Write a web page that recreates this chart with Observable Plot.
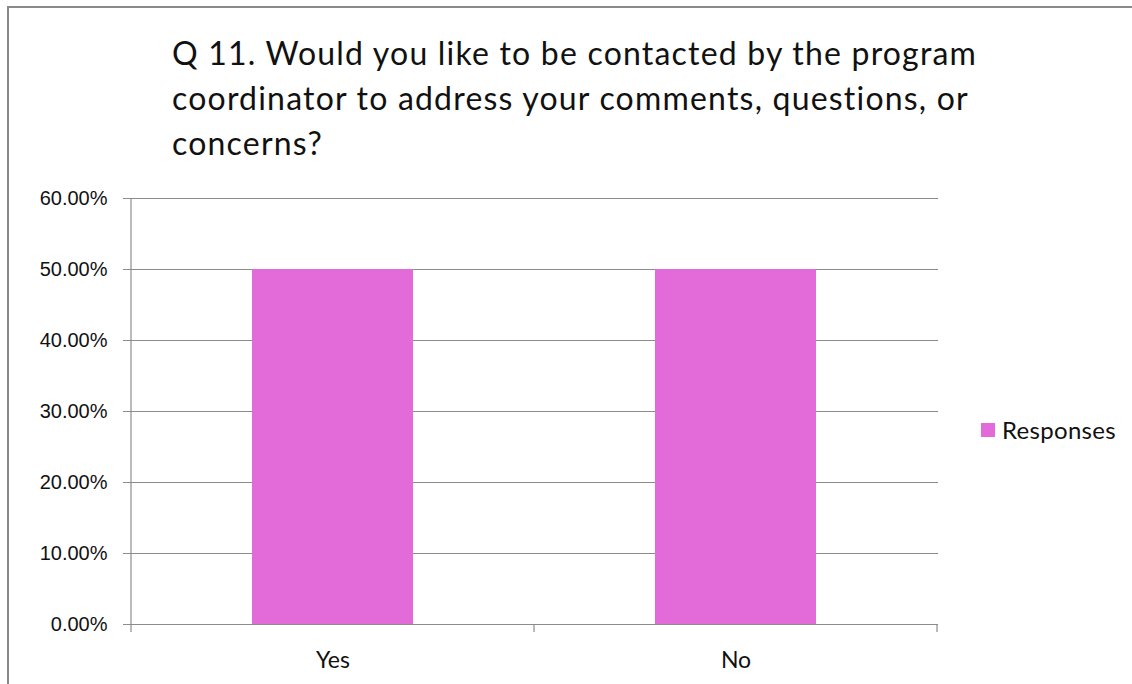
<!DOCTYPE html>
<html>
<head>
<meta charset="utf-8">
<script src="https://cdn.jsdelivr.net/npm/d3@7"></script>
<script src="https://cdn.jsdelivr.net/npm/@observablehq/plot@0.6"></script>
<style>
  html, body { margin: 0; padding: 0; background: #fff; width: 1132px; height: 684px; overflow: hidden; }
  #frame { position: absolute; left: 7px; top: 6px; width: 1140px; height: 700px;
           border-top: 2px solid #8a8a8a; border-left: 2px solid #8a8a8a; }
  #title { position: absolute; left: 172px; top: 30px; font-family: Lato, "Open Sans", sans-serif;
           font-size: 32px; letter-spacing: 1.2px; line-height: 45px; color: #111; white-space: nowrap; }
  #chart { position: absolute; left: 0; top: 180px; }
  #legend { position: absolute; left: 981px; top: 415px; font-family: Lato, "Open Sans", sans-serif;
            font-size: 24px; letter-spacing: 0.3px; color: #111; display: flex; align-items: center; }
  #legend .sw { width: 14px; height: 14px; margin-right: 7px; }
</style>
</head>
<body>
<div id="frame"></div>
<div id="title"></div>
<div id="chart"></div>
<div id="legend"></div>
<script>
const titleLines = ["Q 11. Would you like to be contacted by the program",
                    "coordinator to address your comments, questions, or",
                    "concerns?"];
const categories = ["Yes", "No"];
const values = [0.5, 0.5];
const yTicks = [0, 0.1, 0.2, 0.3, 0.4, 0.5, 0.6];
const seriesName = "Responses";
const barColor = "#e36bd9";
const gridColor = "#8c8c8c";

document.getElementById("title").innerHTML = titleLines.join("<br>");
document.getElementById("legend").innerHTML =
  `<div class="sw" style="background:${barColor}"></div><span>${seriesName}</span>`;

const data = categories.map((c, i) => ({category: c, value: values[i]}));

// category-boundary ticks and y-axis line, derived from the band scale
function frameMarks(index, scales, values, dimensions) {
  const g = d3.create("svg:g").attr("stroke", gridColor).attr("stroke-width", 1.2);
  const x = scales.x, y = scales.y;
  const step = x.step(), bw = x.bandwidth();
  const edges = categories.map(c => x(c) - (step - bw) / 2);
  edges.push(edges[edges.length - 1] + step);
  const y0 = y(0), yTop = y(yTicks[yTicks.length - 1]);
  g.append("line").attr("x1", edges[0]).attr("x2", edges[0]).attr("y1", yTop).attr("y2", y0 + 8);
  for (const e of edges.slice(1)) {
    g.append("line").attr("x1", e).attr("x2", e).attr("y1", y0).attr("y2", y0 + 8);
  }
  return g.node();
}

const chart = Plot.plot({
  width: 1132,
  height: 500,
  marginLeft: 131,
  marginRight: 194,
  marginTop: 18,
  marginBottom: 56,
  style: {fontFamily: "'Liberation Sans', Arial, sans-serif", fontSize: "20px", color: "#111", background: "transparent"},
  x: {domain: categories, paddingInner: 0.6, paddingOuter: 0.3, label: null},
  y: {domain: [0, 0.6], label: null},
  marks: [
    Plot.gridY(yTicks, {stroke: gridColor, strokeOpacity: 1, strokeWidth: 1.2}),
    Plot.barY(data, {x: "category", y: "value", fill: barColor}),
    Plot.axisY(yTicks, {tickSize: 8, tickPadding: 16, stroke: gridColor, strokeOpacity: 1,
      tickFormat: d => (d * 100).toFixed(2) + "%", fill: "#111", label: null}),
    Plot.axisX({tickSize: 0, tickPadding: 27, fill: "#111", label: null, fontSize: 23,
      fontFamily: "Lato, 'Open Sans', sans-serif"}),
    frameMarks
  ]
});
document.getElementById("chart").appendChild(chart);
</script>
</body>
</html>
